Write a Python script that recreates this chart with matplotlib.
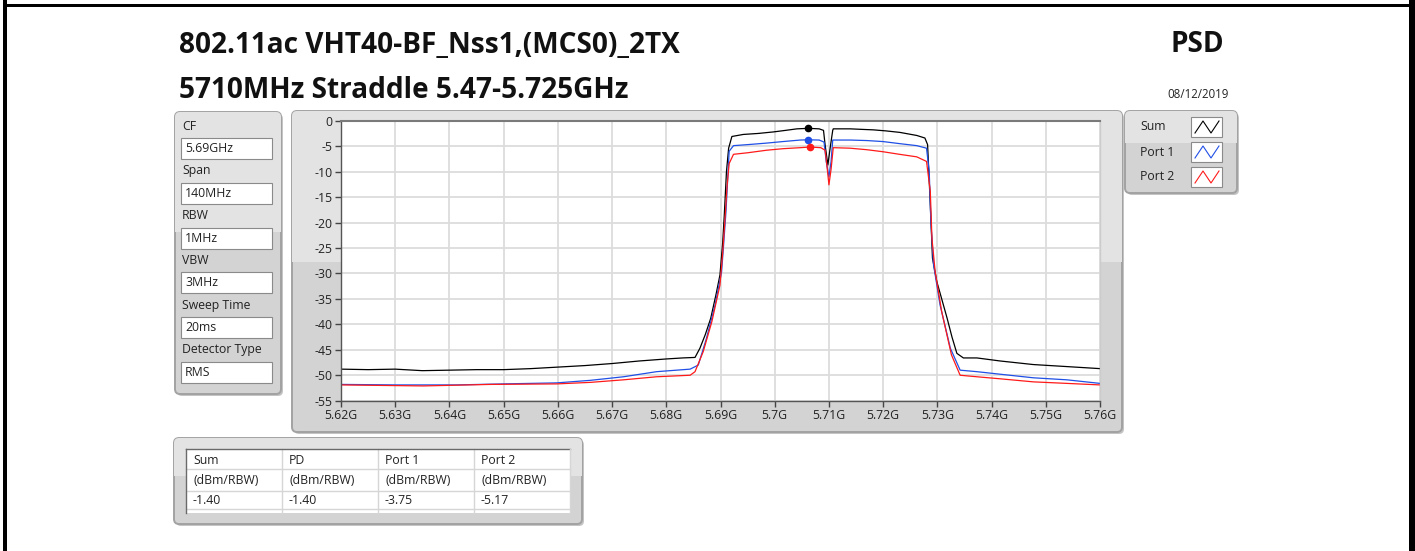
import matplotlib
matplotlib.use('Agg')
import matplotlib.pyplot as plt
from matplotlib.patches import FancyBboxPatch, Rectangle

# --- data (frequency in MHz, level in dBm/RBW) ---
SUM_F = [5620, 5625, 5630, 5635, 5640, 5645, 5650, 5655, 5660, 5665, 5670, 5675,
         5680, 5683, 5685.3, 5686.2, 5687.2, 5688.2, 5689.2, 5689.9, 5690.4, 5690.7,
         5691.1, 5691.5, 5692.1, 5694.2, 5697, 5699.8, 5702, 5704.1, 5706.2, 5708.2,
         5709.0, 5709.3, 5709.8, 5710.3, 5710.7, 5710.8, 5713.9, 5716, 5718.2, 5720.5,
         5723.1, 5726.2, 5727.7, 5728.2, 5728.7, 5729.1, 5729.9, 5730.8, 5731.8,
         5732.7, 5733.6, 5734.8, 5737.3, 5741.6, 5747.7, 5753.9, 5760]
SUM_DB = [-48.8, -48.9, -48.8, -49.1, -49.0, -48.9, -48.9, -48.7, -48.4, -48.1, -47.7, -47.2,
          -46.8, -46.6, -46.5, -44.7, -42.0, -38.8, -34.0, -30.3, -24.0, -18.5,
          -10.0, -5.4, -3.1, -2.7, -2.5, -2.2, -1.9, -1.6, -1.5, -1.6,
          -1.9, -4.8, -8.7, -4.8, -1.9, -1.6, -1.6, -1.7, -1.8, -2.0,
          -2.3, -2.9, -3.4, -4.7, -16.6, -27.0, -31.6, -35.0, -38.8,
          -42.5, -45.7, -46.6, -46.6, -47.2, -47.9, -48.3, -48.7]

P1_F = [5620, 5630, 5641.3, 5650, 5659.8, 5666, 5672.1, 5678.2, 5684.4, 5685.9, 5687.4,
        5689.0, 5690.2, 5690.6, 5691.0, 5691.3, 5691.6, 5692.4, 5695, 5698.5, 5701.5,
        5704.7, 5706.2, 5708.2, 5709.1, 5709.5, 5710.0, 5710.4, 5710.7, 5713.9, 5717,
        5720, 5723, 5726.2, 5728.0, 5728.5, 5728.8, 5729.3, 5730.5, 5732.4, 5734.2,
        5737.3, 5741.6, 5747.7, 5753.9, 5760]
P1_DB = [-51.8, -51.9, -51.9, -51.7, -51.5, -51.0, -50.3, -49.3, -48.8, -48.0, -42.8,
         -36.2, -29.7, -24.0, -18.0, -12.0, -6.0, -4.9, -4.7, -4.4, -4.1,
         -3.8, -3.75, -3.8, -4.2, -8.0, -11.0, -8.0, -3.8, -3.8, -3.9,
         -4.1, -4.5, -4.9, -5.4, -10.0, -19.8, -28.3, -36.2, -44.7, -49.0,
         -49.3, -49.8, -50.5, -50.9, -51.6]

P2_F = [5620, 5635.2, 5647.5, 5659.8, 5666, 5672.1, 5678.2, 5684.4, 5685.3, 5686.8,
        5688.4, 5689.9, 5690.4, 5690.8, 5691.2, 5691.6, 5692.4, 5695, 5698.5, 5701.5,
        5704.7, 5706.5, 5708.5, 5709.3, 5709.7, 5710.0, 5710.4, 5710.8, 5713.9, 5717,
        5720, 5723, 5726.2, 5728.0, 5728.7, 5729.0, 5729.6, 5730.8, 5732.6, 5734.2,
        5737.3, 5741.6, 5747.7, 5753.9, 5760]
P2_DB = [-51.9, -52.1, -51.8, -51.7, -51.4, -50.9, -50.3, -50.0, -49.3, -45.4,
         -39.5, -32.3, -26.0, -19.8, -13.0, -8.4, -6.6, -6.3, -5.8, -5.5,
         -5.3, -5.17, -5.3, -5.8, -9.5, -12.6, -9.5, -5.3, -5.4, -5.7,
         -6.1, -6.6, -7.1, -8.0, -13.9, -23.1, -29.7, -37.5, -46.0, -50.0,
         -50.3, -50.7, -51.3, -51.6, -51.9]

# peak markers
PEAK_F = [5706.2, 5706.2, 5706.5]
PEAK_DB = [-1.40, -3.75, -5.17]

TRACE_NAMES = ['Sum', 'Port 1', 'Port 2']
TRACE_COLORS = ['#000000', '#1f4fe6', '#ff1a1a']

X_TICKS = [5.62, 5.63, 5.64, 5.65, 5.66, 5.67, 5.68, 5.69, 5.70, 5.71, 5.72, 5.73, 5.74, 5.75, 5.76]
Y_TICKS = [0, -5, -10, -15, -20, -25, -30, -35, -40, -45, -50, -55]

SETTING_LABELS = ['CF', 'Span', 'RBW', 'VBW', 'Sweep Time', 'Detector Type']
SETTING_VALUES = ['5.69GHz', '140MHz', '1MHz', '3MHz', '20ms', 'RMS']

TABLE_HEAD = ['Sum', 'PD', 'Port 1', 'Port 2']
TABLE_UNIT = ['(dBm/RBW)', '(dBm/RBW)', '(dBm/RBW)', '(dBm/RBW)']
TABLE_VALS = ['-1.40', '-1.40', '-3.75', '-5.17']

TITLE1 = '802.11ac VHT40-BF_Nss1,(MCS0)_2TX'
TITLE2 = '5710MHz Straddle 5.47-5.725GHz'
DATE = '08/12/2019'

W, H = 1415, 551
FONT = 'Open Sans'
TXT = '#222222'
SMALL = 8.8

fig = plt.figure(figsize=(W / 100, H / 100), dpi=100)
fig.patch.set_facecolor('white')

# background layer in pixel coordinates
bg = fig.add_axes([0, 0, 1, 1], zorder=0)
bg.set_xlim(0, W)
bg.set_ylim(H, 0)
bg.axis('off')


def panel(x0, y0, x1, y1, split):
    shadow = FancyBboxPatch((x0 + 2, y0 + 2), x1 - x0, y1 - y0,
                            boxstyle='round,pad=0,rounding_size=5', fc='#c4c4c4', ec='none')
    bg.add_patch(shadow)
    box = FancyBboxPatch((x0, y0), x1 - x0, y1 - y0,
                         boxstyle='round,pad=0,rounding_size=5', fc='#d3d3d3', ec='#a2a2a2', lw=1.4)
    bg.add_patch(box)
    top = Rectangle((x0, y0), x1 - x0, split - y0, fc='#e3e3e3', ec='none')
    bg.add_patch(top)
    top.set_clip_path(box)


# black frame of the page
bg.add_patch(Rectangle((3, 0), 4, H, fc='black', ec='none'))
bg.add_patch(Rectangle((7, 4), 1402, 2.5, fc='black', ec='none'))
bg.add_patch(Rectangle((1409, 0), 6, H, fc='black', ec='none'))

# titles
bg.text(179, 45, TITLE1, fontsize=20.2, fontweight='bold', family=FONT, va='center', ha='left', color='#111111')
bg.text(179, 90, TITLE2, fontsize=20.2, fontweight='bold', family=FONT, va='center', ha='left', color='#111111')
bg.text(1224, 45, 'PSD', fontsize=20.2, fontweight='bold', family=FONT, va='center', ha='right', color='#111111')
bg.text(1229, 94, DATE, fontsize=8.3, family=FONT, va='center', ha='right', color=TXT)

# panels
panel(292, 111, 1122, 432, 262)
panel(175, 112, 281, 394, 232)
panel(1125, 111, 1237, 193, 143)
panel(174, 438, 582, 524, 476)

# settings panel
for i, (lab, val) in enumerate(zip(SETTING_LABELS, SETTING_VALUES)):
    yl = 126 + i * 44.8
    bg.text(182, yl, lab, fontsize=SMALL, family=FONT, va='center', ha='left', color=TXT)
    bg.add_patch(Rectangle((181, yl + 12), 91, 21, fc='white', ec='#8a8a8a', lw=0.8))
    bg.text(185, yl + 22.5, val, fontsize=SMALL, family=FONT, va='center', ha='left', color=TXT)

# legend panel
for i, (name, col) in enumerate(zip(TRACE_NAMES, TRACE_COLORS)):
    yc = 127 + i * 25
    bg.text(1140, yc, name, fontsize=SMALL, family=FONT, va='center', ha='left', color=TXT)
    bg.add_patch(Rectangle((1191, yc - 10), 31, 20, fc='white', ec='#8a8a8a', lw=0.8))
    bg.plot([1195, 1203, 1211, 1219], [yc + 6, yc - 6, yc + 6, yc - 6], color=col, lw=0.8)

# result table
col_x = [186, 282, 378, 474, 570]
row_y = [449, 469, 491, 509, 513]
bg.add_patch(Rectangle((186, 449), 384, 64, fc='white', ec='none'))
for y in row_y[1:-1]:
    bg.plot([186, 570], [y, y], color='#d6d6d6', lw=1.0)
for x in col_x[1:-1]:
    bg.plot([x, x], [449, 513], color='#d6d6d6', lw=1.0)
bg.plot([186, 570], [449, 449], color='#6a6a6a', lw=1.0)
bg.plot([186, 186], [449, 513], color='#6a6a6a', lw=1.0)
bg.plot([570, 570], [449, 513], color='#d6d6d6', lw=1.0)
for j in range(4):
    x = col_x[j] + 7
    bg.text(x, 460, TABLE_HEAD[j], fontsize=SMALL, family=FONT, va='center', ha='left', color=TXT)
    bg.text(x, 481, TABLE_UNIT[j], fontsize=SMALL, family=FONT, va='center', ha='left', color=TXT)
    bg.text(x, 500, TABLE_VALS[j], fontsize=SMALL, family=FONT, va='center', ha='left', color=TXT)

# spectrum plot
ax = fig.add_axes([341 / W, 1 - 400.7 / H, (1100 - 341) / W, (400.7 - 120.7) / H], zorder=2)
ax.set_facecolor('white')
series = [(SUM_F, SUM_DB), (P1_F, P1_DB), (P2_F, P2_DB)]
for (f, db), col in zip(series, TRACE_COLORS):
    ax.plot([v / 1000 for v in f], db, color=col, lw=0.9)
for f, db, col in zip(PEAK_F, PEAK_DB, TRACE_COLORS):
    ax.plot(f / 1000, db, 'o', color=col, markersize=4.5, zorder=5)

ax.set_xlim(5.62, 5.76)
ax.set_ylim(-55, 0)
ax.set_xticks(X_TICKS)
ax.set_xticklabels([f'{t:g}G' for t in X_TICKS])
ax.set_yticks(Y_TICKS)
ax.set_yticklabels([str(t) for t in Y_TICKS])
ax.grid(True, color='#dcdcdc', lw=1.3)
ax.set_axisbelow(True)
ax.tick_params(direction='out', length=4, width=1, colors='#444444', labelcolor=TXT, labelsize=8.8, pad=2)
for lab in ax.get_xticklabels() + ax.get_yticklabels():
    lab.set_family(FONT)
for s in ['left', 'bottom']:
    ax.spines[s].set_color('#555555')
    ax.spines[s].set_linewidth(1.0)
ax.spines['top'].set_color('#7a7a7a')
ax.spines['top'].set_linewidth(1.5)
ax.spines['right'].set_color('#cccccc')
ax.spines['right'].set_linewidth(1.0)

fig.savefig('out.png', dpi=100)
